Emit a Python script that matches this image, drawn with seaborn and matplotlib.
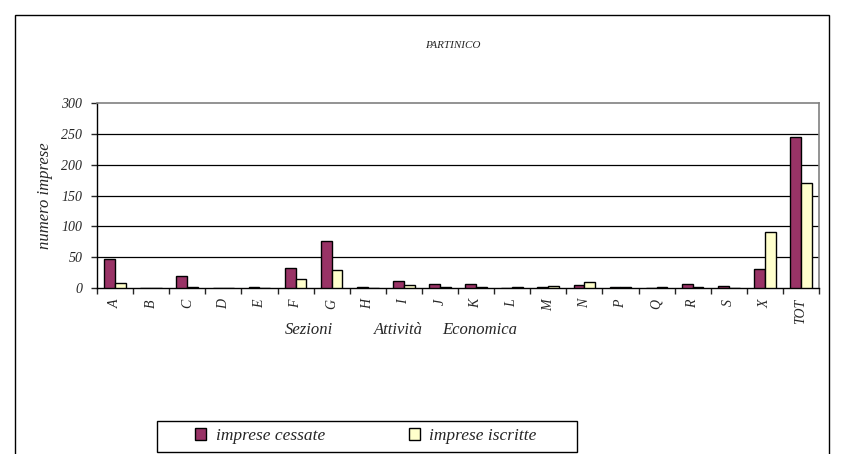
import numpy as np
import pandas as pd
import matplotlib
matplotlib.use("Agg")
import matplotlib.pyplot as plt
import seaborn as sns
from matplotlib.patches import Rectangle

# data
sezioni = ['A', 'B', 'C', 'D', 'E', 'F', 'G', 'H', 'I', 'J', 'K', 'L', 'M',
           'N', 'P', 'Q', 'R', 'S', 'X', 'TOT']
cessate = [47, 0, 20, 0, 1, 32, 76, 1, 12, 6, 6, 0, 2, 5, 1, 0, 7, 3, 31, 245]
iscritte = [8, 0, 1, 0, 0, 15, 30, 0, 5, 2, 2, 2, 3, 10, 2, 1, 1, 0, 91, 171]
series = ['imprese cessate', 'imprese iscritte']
colori = ['#993366', '#FFFFCC']

df = pd.DataFrame({'sezione': sezioni * 2,
                   'valore': cessate + iscritte,
                   'serie': [series[0]] * len(sezioni) + [series[1]] * len(sezioni)})

sns.set_style("white")
plt.rcParams['font.family'] = ['Liberation Serif', 'DejaVu Serif']

W, H = 843, 454
fig = plt.figure(figsize=(W / 100, H / 100), dpi=100)

# outer chart frame
fig.patches.append(Rectangle((15 / W, -0.1), 814 / W, 1 - 15 / H + 0.1,
                             transform=fig.transFigure, fill=False,
                             edgecolor='black', linewidth=1))

ax = fig.add_axes([97 / W, 1 - 288 / H, 722 / W, 185 / H])
sns.barplot(data=df, x='sezione', y='valore', hue='serie', palette=colori,
            width=0.6, gap=0, edgecolor='black', linewidth=1,
            saturation=1, ax=ax, legend=False, zorder=3)

ax.set_ylim(0, 300)
ax.set_xlim(-0.5, len(sezioni) - 0.5)
ax.set_yticks(range(0, 301, 50))
for y in range(50, 300, 50):
    ax.axhline(y, color='black', linewidth=0.9, zorder=1)

for s in ['left', 'bottom']:
    ax.spines[s].set_color('black')
    ax.spines[s].set_linewidth(1)
for s in ['top', 'right']:
    ax.spines[s].set_color('#808080')
    ax.spines[s].set_linewidth(1.2)

ax.tick_params(axis='y', length=4.5, width=1, direction='out', left=True,
               labelsize=10, pad=6)
ax.tick_params(axis='x', which='major', length=0, labelsize=10, pad=8,
               labelrotation=90)
ax.set_xticks(np.arange(-0.5, len(sezioni), 1), minor=True)
ax.tick_params(axis='x', which='minor', length=4, width=1, direction='out',
               bottom=True)
for t in ax.get_yticklabels() + ax.get_xticklabels():
    t.set_fontstyle('italic')

ax.set_ylabel('')
ax.set_xlabel('')
fig.text(45 / W, 1 - 196 / H, 'numero imprese', rotation=90, ha='center',
         va='center', fontsize=12, fontstyle='italic')
# x axis title, written in three pieces like the original
for parola, x0 in [('Sezioni', 285), ('Attività', 374), ('Economica', 442)]:
    fig.text(x0 / W, 1 - 330 / H, parola, ha='left', va='center',
             fontsize=12, fontstyle='italic')

fig.text(453 / W, 1 - 45 / H, 'PARTINICO', ha='center', va='center',
         fontsize=8, fontstyle='italic')

# legend below the chart
fig.patches.append(Rectangle((157 / W, 1 - 452 / H), 420 / W, 31 / H,
                             transform=fig.transFigure, fill=False,
                             edgecolor='black', linewidth=1))
handles = [Rectangle((0, 0), 1, 1, facecolor=c, edgecolor='black', linewidth=1)
           for c in colori]
leg = fig.legend(handles, series, loc='center',
                 bbox_to_anchor=(366 / W, 1 - 436 / H), ncol=2,
                 frameon=False, prop={'style': 'italic', 'size': 12.5},
                 handlelength=0.65, handleheight=0.65, columnspacing=4.8,
                 borderpad=0.3, handletextpad=0.55)

fig.savefig('out.png', dpi=100)
